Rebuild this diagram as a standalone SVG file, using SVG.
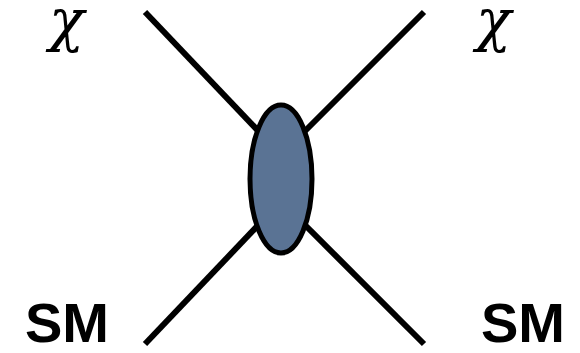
<svg xmlns="http://www.w3.org/2000/svg" width="580" height="353" viewBox="0 0 580 353">
<style>
.leg{stroke:#000;stroke-width:6;stroke-linecap:butt;fill:none}
.chi{font-family:"DejaVu Serif",serif;font-style:italic;font-size:58px;fill:#000}
.sm{font-family:"Liberation Sans",Arial,sans-serif;font-weight:bold;font-size:56px;fill:#000}
</style>
<rect width="580" height="353" fill="#fff"/>
<g id="connectors">
<line class="leg" x1="145" y1="12" x2="265" y2="138"/>
<line class="leg" x1="424" y1="12" x2="298" y2="138"/>
<line class="leg" x1="145" y1="344" x2="265" y2="218"/>
<line class="leg" x1="424" y1="344" x2="298" y2="218"/>
</g>
<g id="vertex">
<ellipse cx="281" cy="179" rx="31" ry="74" fill="#5a7394" stroke="#000" stroke-width="5"/>
</g>
<g id="chi-left"><text class="chi" x="49" y="40">χ</text></g>
<g id="chi-right"><text class="chi" x="476" y="40">χ</text></g>
<g id="sm-left"><text class="sm" x="25" y="342">SM</text></g>
<g id="sm-right"><text class="sm" x="481" y="342">SM</text></g>
</svg>
